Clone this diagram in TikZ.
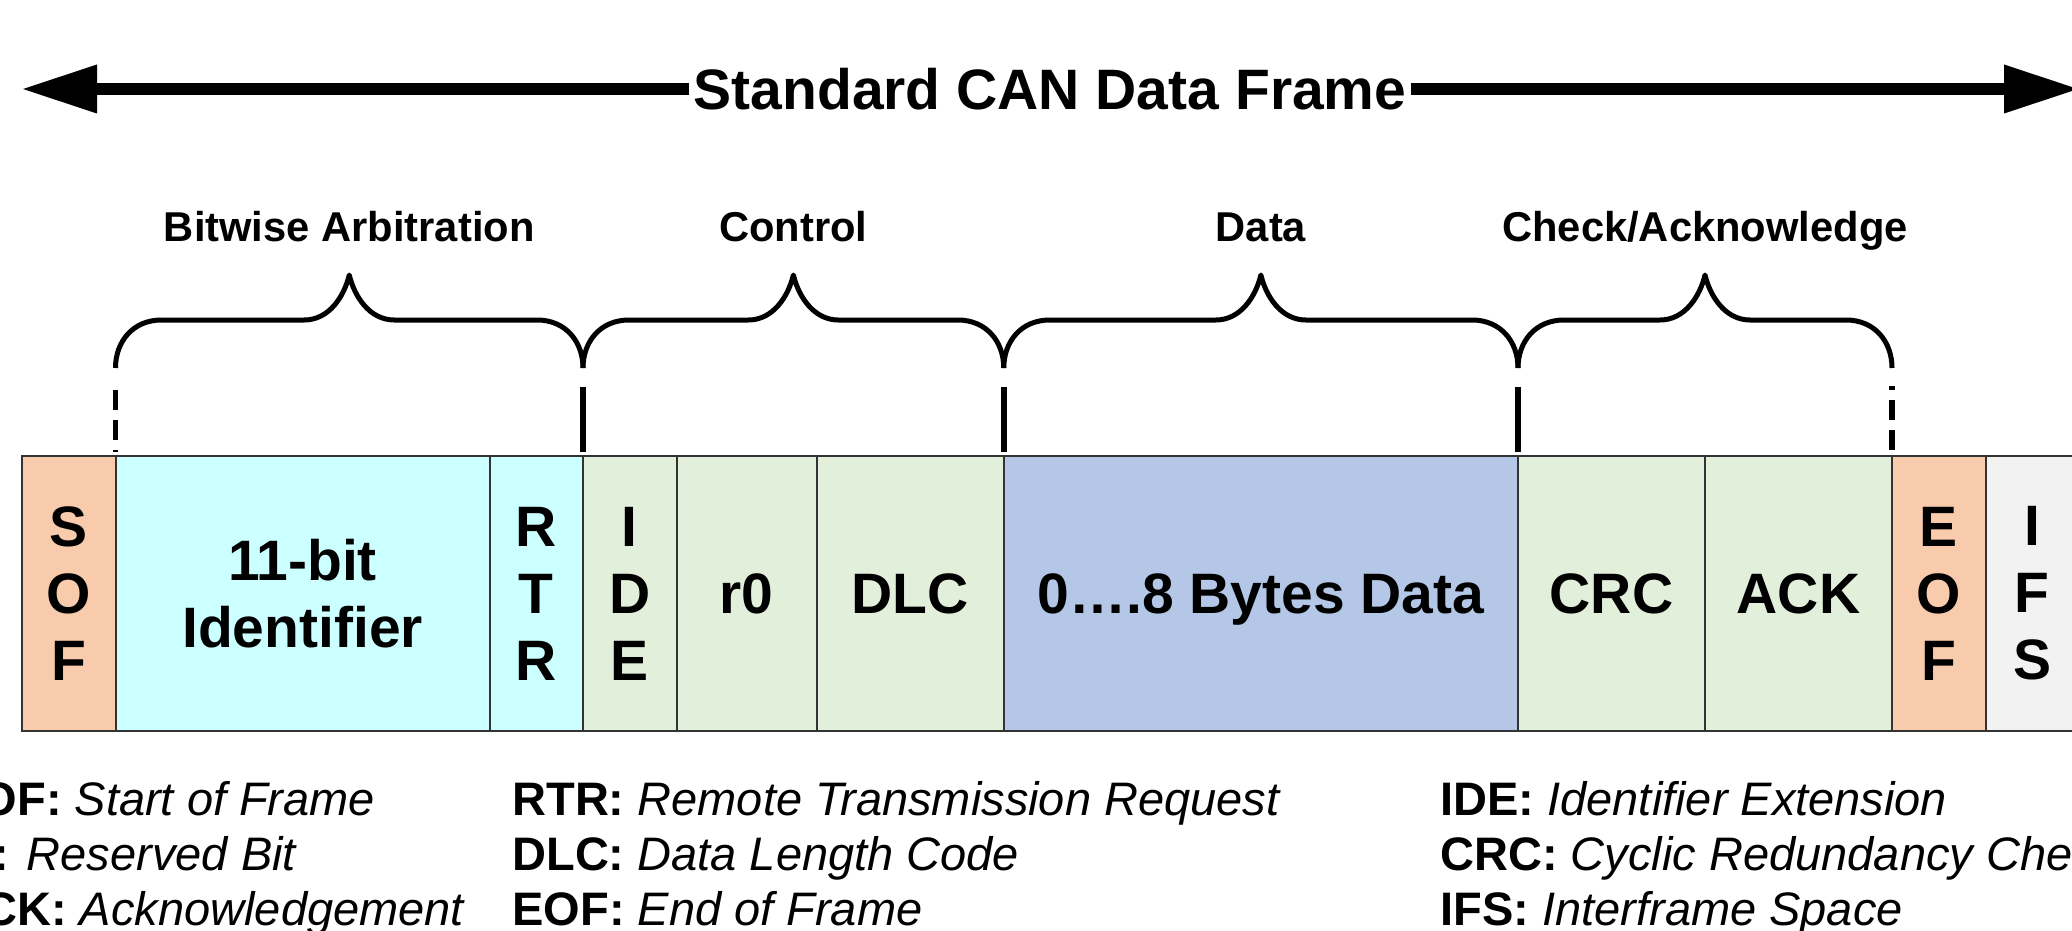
\documentclass[tikz,border=0pt]{standalone}
\usepackage{fontspec}
\setmainfont{Liberation Sans}
\usetikzlibrary{arrows.meta}

\definecolor{sofcol}{HTML}{F8CBAD}
\definecolor{idcol}{HTML}{CCFFFF}
\definecolor{ctlcol}{HTML}{E2EFDA}
\definecolor{datacol}{HTML}{B4C7E7}
\definecolor{ifscol}{HTML}{F2F2F2}

% curly brace over a group of fields, opening downwards
\newcommand\groupbrace[2]{%
  \pgfmathsetmacro\bracemid{(#1+#2)/2}%
  \draw[bracepath] (#1,368)
    .. controls (#1,342) and ({#1+17},320) .. ({#1+46},320)
    -- ({\bracemid-45},320)
    .. controls ({\bracemid-20},320) and ({\bracemid-5},296) .. (\bracemid,275)
    .. controls ({\bracemid+5},296) and ({\bracemid+20},320) .. ({\bracemid+45},320)
    -- ({#2-46},320)
    .. controls ({#2-17},320) and (#2,342) .. (#2,368);}

\begin{document}
\begin{tikzpicture}[x=0.5pt,y=-0.5pt,
  field/.style={draw=black!80, line width=1pt, minimum width=#1*46.75pt,
    minimum height=137.5pt, inner sep=0pt, outer sep=0pt, align=center,
    anchor=west, font=\fontsize{28.5pt}{33.5pt}\selectfont\bfseries},
  grouplabel/.style={anchor=base, inner sep=0pt,
    font=\fontsize{20.85pt}{24pt}\selectfont\bfseries},
  bracepath/.style={line width=2.5pt, line join=round},
  marker/.style={line width=2.8pt},
  dashmarker/.style={marker, dash pattern=on 10pt off 5pt},
  legend/.style={anchor=base west, inner sep=0pt,
    font=\fontsize{23.5pt}{27pt}\selectfont},
  framearrow/.style={line width=6pt,
    -{Triangle[length=37pt,width=24.5pt,line width=0pt]}}
]
\useasboundingbox (0,0) rectangle (2072,931);
\clip (0,0) rectangle (2072,931);

% frame title with its double-headed arrow
\node[inner xsep=2pt, inner ysep=0pt,
  font=\fontsize{28.5pt}{33.5pt}\selectfont\bfseries] (title) at (1050,89)
  {Standard CAN Data Frame};
\coordinate (ltip) at (23,89);
\coordinate (rtip) at (2078,89);
\draw[framearrow] (title.west) -- (ltip);
\draw[framearrow] (title.east) -- (rtip);

% the fields of the frame
\coordinate (start) at (22,593.5);
\node[field=1, fill=sofcol] (sof) at (start) {S\\O\\F};
\node[field=4, fill=idcol] (id) at (sof.east) {11-bit\\Identifier};
\node[field=1, fill=idcol] (rtr) at (id.east) {R\\T\\R};
\node[field=1, fill=ctlcol] (ide) at (rtr.east) {I\\D\\E};
\node[field=1.5, fill=ctlcol] (r0) at (ide.east) {r0};
\node[field=2, fill=ctlcol] (dlc) at (r0.east) {DLC};
\node[field=5.5, fill=datacol] (data) at (dlc.east)
  {\raisebox{0pt}[\height][0pt]{0….8 Bytes Data}};
\node[field=2, fill=ctlcol] (crc) at (data.east) {CRC};
\node[field=2, fill=ctlcol] (ack) at (crc.east) {ACK};
\node[field=1, fill=sofcol] (eof) at (ack.east) {E\\O\\F};
\node[field=1, fill=ifscol] (ifs) at (eof.east) {I\\F\\S};

% group markers above the field boundaries
\draw[dashmarker] ([yshift=33pt]id.north west) -- ([yshift=2pt]id.north west);
\draw[marker] ([yshift=34.5pt]rtr.north east) -- ([yshift=2pt]rtr.north east);
\draw[marker] ([yshift=34.5pt]dlc.north east) -- ([yshift=2pt]dlc.north east);
\draw[marker] ([yshift=34.5pt]data.north east) -- ([yshift=2pt]data.north east);
\draw[dashmarker] ([yshift=3pt]ack.north east) -- ([yshift=35pt]ack.north east);

% braces and group names
\groupbrace{115.5}{583}
\groupbrace{583}{1003.75}
\groupbrace{1003.75}{1518}
\groupbrace{1518}{1892}
\node[grouplabel] (garb) at (349.25,242) {Bitwise Arbitration};
\node[grouplabel] (gctl) at (793.4,242) {Control};
\node[grouplabel] (gdat) at (1260.9,242) {Data};
\node[grouplabel] (gchk) at (1705,242) {Check/Acknowledge};

% abbreviations
\node[legend] (lsof) at (-51,815) {\textbf{SOF:} \textit{Start of Frame}};
\node[legend] (lr0)  at (-51,870) {\textbf{r0:} \textit{Reserved Bit}};
\node[legend] (lack) at (-51,925) {\textbf{ACK:} \textit{Acknowledgement}};
\node[legend] (lrtr) at (512,815) {\textbf{RTR:} \textit{Remote Transmission Request}};
\node[legend] (ldlc) at (512,870) {\textbf{DLC:} \textit{Data Length Code}};
\node[legend] (leof) at (512,925) {\textbf{EOF:} \textit{End of Frame}};
\node[legend] (lide) at (1440,815) {\textbf{IDE:} \textit{Identifier Extension}};
\node[legend] (lcrc) at (1440,870) {\textbf{CRC:} \textit{Cyclic Redundancy Check}};
\node[legend] (lifs) at (1440,925) {\textbf{IFS:} \textit{Interframe Space}};
\end{tikzpicture}
\end{document}
